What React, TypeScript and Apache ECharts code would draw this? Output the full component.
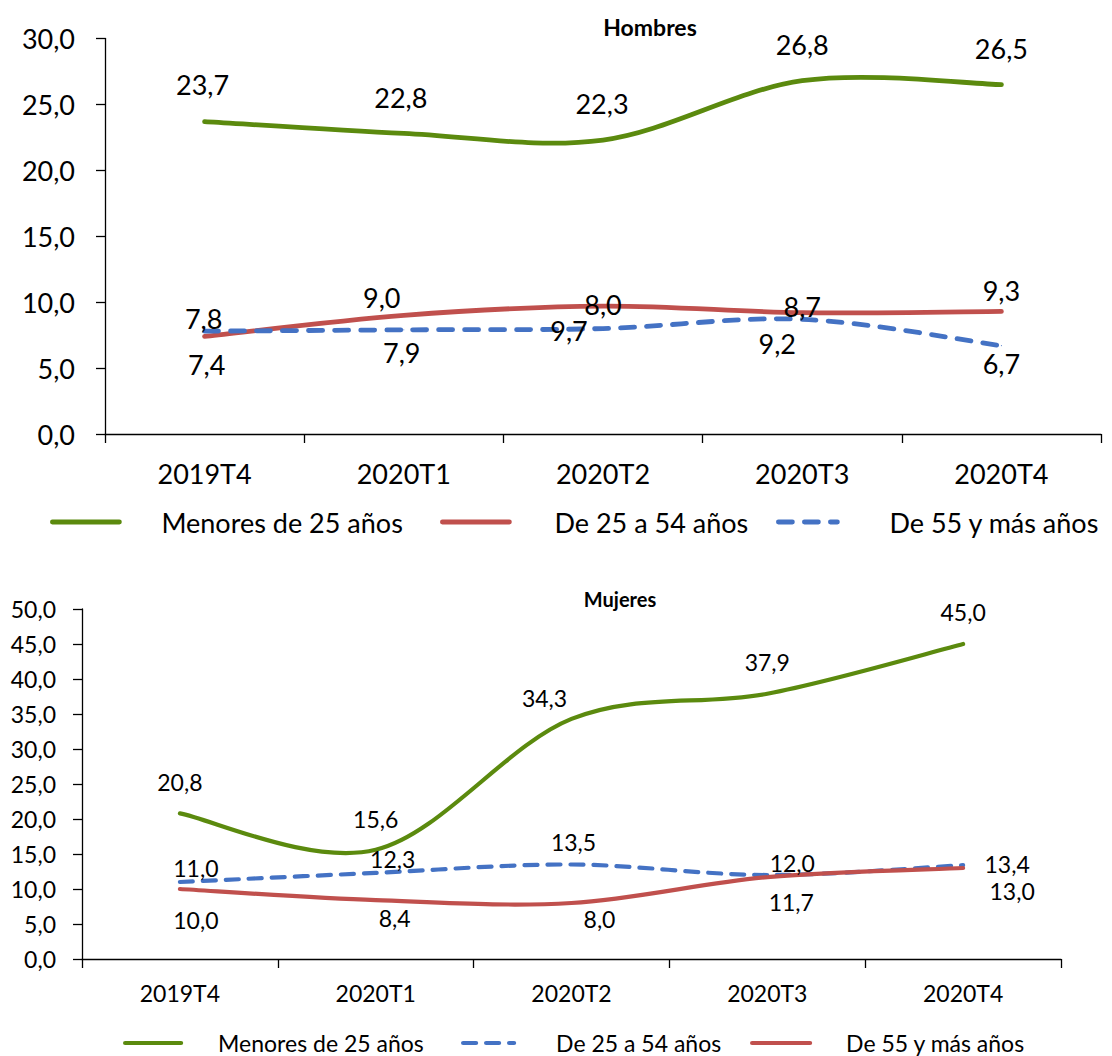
import React, { useEffect, useRef } from 'react';
import * as echarts from 'echarts';

const categories = ['2019T4', '2020T1', '2020T2', '2020T3', '2020T4'];
const seriesNames = ['Menores de 25 años', 'De 25 a 54 años', 'De 55 y más años'];

const hombresMenores25 = [23.7, 22.8, 22.3, 26.8, 26.5];
const hombres25a54 = [7.4, 9.0, 9.7, 9.2, 9.3];
const hombres55mas = [7.8, 7.9, 8.0, 8.7, 6.7];

const mujeresMenores25 = [20.8, 15.6, 34.3, 37.9, 45.0];
const mujeres25a54 = [11.0, 12.3, 13.5, 12.0, 13.4];
const mujeres55mas = [10.0, 8.4, 8.0, 11.7, 13.0];

const hombresAxisMax = 30;
const mujeresAxisMax = 50;
const axisInterval = 5;

const FONT = 'Lato, "Open Sans", sans-serif';
const GREEN = '#5B8A0E';
const RED = '#C0504D';
const BLUE = '#4472C4';

const fmt = (v: number) => Number(v).toFixed(1).replace('.', ',');

// Smoothed curve (Catmull-Rom style, as spreadsheet "smoothed line"), drawn through the axis scales.
function makeCurve(
  id: string,
  values: number[],
  idx: number,
  color: string,
  width: number,
  dash: number[] | null
) {
  return {
    id: id + '_curve',
    type: 'custom',
    coordinateSystem: 'cartesian2d',
    xAxisIndex: idx,
    yAxisIndex: idx,
    data: values.map((v, i) => [i, v]),
    encode: { x: 0, y: 1 },
    silent: true,
    z: 3,
    renderItem: (params: any, api: any) => {
      if (params.dataIndex !== 0) return null;
      const pts = values.map((v, i) => api.coord([i, v]));
      let d = `M ${pts[0][0]} ${pts[0][1]}`;
      for (let i = 0; i < pts.length - 1; i++) {
        const p0 = pts[i - 1] || pts[i];
        const p1 = pts[i];
        const p2 = pts[i + 1];
        const p3 = pts[i + 2] || pts[i + 1];
        const c1x = p1[0] + (p2[0] - p0[0]) / 6;
        const c1y = p1[1] + (p2[1] - p0[1]) / 6;
        const c2x = p2[0] - (p3[0] - p1[0]) / 6;
        const c2y = p2[1] - (p3[1] - p1[1]) / 6;
        d += ` C ${c1x} ${c1y} ${c2x} ${c2y} ${p2[0]} ${p2[1]}`;
      }
      return {
        type: 'path',
        shape: { pathData: d },
        style: {
          fill: 'none',
          stroke: color,
          lineWidth: width,
          lineDash: dash || undefined,
          lineCap: 'round',
          lineJoin: 'round',
        },
      };
    },
  };
}

// Invisible line series carrying the data labels and the legend entry.
function makeLabels(
  id: string,
  data: number[],
  idx: number,
  color: string,
  offsets: number[][],
  fontSize: number,
  lineHeight: number
) {
  return {
    id,
    name: id,
    type: 'line',
    xAxisIndex: idx,
    yAxisIndex: idx,
    data: data.map((v, i) => ({ value: v, label: { offset: offsets[i] } })),
    symbol: 'circle',
    symbolSize: 1,
    showSymbol: true,
    lineStyle: { color, width: 0, opacity: 0 },
    itemStyle: { color },
    label: {
      show: true,
      position: 'inside',
      formatter: (p: any) => fmt(p.value),
      fontSize,
      lineHeight,
      fontFamily: FONT,
      color: '#000',
    },
    emphasis: { disabled: true },
    z: 4,
  };
}

function makeLegend(
  id: string,
  label: string,
  left: number,
  top: number,
  iconW: number,
  gap: number,
  fontSize: number,
  lh: number,
  color: string,
  width: number,
  dash: number[] | null
) {
  return {
    data: [id],
    left,
    top,
    orient: 'horizontal',
    padding: 0,
    itemWidth: iconW,
    itemHeight: 2,
    selectedMode: false,
    formatter: () => label,
    lineStyle: { color, width, type: dash ? dash : 'solid', cap: 'round', opacity: 1 },
    itemStyle: { color, opacity: 0 },
    textStyle: { fontSize, fontFamily: FONT, color: '#000', padding: [0, 0, 0, gap - 5], lineHeight: lh },
  };
}

function xAxis(gridIndex: number, fontSize: number, margin: number) {
  return {
    type: 'category',
    gridIndex,
    data: categories,
    boundaryGap: true,
    axisLine: { show: true, lineStyle: { color: '#000', width: 1.3 } },
    axisTick: { show: true, length: 9, alignWithLabel: false, interval: 0, lineStyle: { color: '#000', width: 1.3 } },
    axisLabel: { fontSize, fontFamily: FONT, color: '#000', margin, interval: 0 },
    splitLine: { show: false },
  };
}

function yAxis(gridIndex: number, max: number, fontSize: number, margin: number) {
  return {
    type: 'value',
    gridIndex,
    min: 0,
    max,
    interval: axisInterval,
    axisLine: { show: true, lineStyle: { color: '#000', width: 1.3 } },
    axisTick: { show: true, length: 9, lineStyle: { color: '#000', width: 1.3 } },
    axisLabel: { fontSize, fontFamily: FONT, color: '#000', margin, formatter: (v: number) => fmt(v) },
    splitLine: { show: false },
  };
}

export default function App() {
  const ref = useRef<HTMLDivElement>(null);

  useEffect(() => {
    if (!ref.current) return;
    const chart = echarts.init(ref.current, null, { renderer: 'svg' });

    const TOP_FS = 27;
    const BOT_FS = 23;
    const TOP_W = 4.8;
    const BOT_W = 4.2;
    const TOP_DASH = [14, 12];
    const BOT_DASH = [13, 10];

    const option = {
      animation: false,
      backgroundColor: '#fff',
      textStyle: { fontFamily: FONT },
      grid: [
        { left: 105, top: 38.5, width: 996, height: 395.5 },
        { left: 82, top: 609, width: 979, height: 350 },
      ],
      xAxis: [xAxis(0, TOP_FS, 26), xAxis(1, BOT_FS, 22)],
      yAxis: [yAxis(0, hombresAxisMax, TOP_FS, 30), yAxis(1, mujeresAxisMax, BOT_FS, 26)],
      legend: [
        makeLegend('h0', seriesNames[0], 50, 507, 67, 42, TOP_FS, 30, GREEN, TOP_W, null),
        makeLegend('h1', seriesNames[1], 440, 507, 67, 45, TOP_FS, 30, RED, TOP_W, null),
        makeLegend('h2', seriesNames[2], 776, 507, 59, 52, TOP_FS, 30, BLUE, TOP_W, TOP_DASH),
        makeLegend('m0', seriesNames[0], 123, 1030, 56, 37, BOT_FS, 26, GREEN, BOT_W, null),
        makeLegend('m1', seriesNames[1], 461, 1030, 51, 42, BOT_FS, 26, BLUE, BOT_W, BOT_DASH),
        makeLegend('m2', seriesNames[2], 750, 1030, 58, 36, BOT_FS, 26, RED, BOT_W, null),
      ],
      graphic: [
        { type: 'text', x: 650, y: 27, style: { text: 'Hombres', fontSize: 23, fontWeight: 'bold', fontFamily: FONT, fill: '#000', align: 'center', verticalAlign: 'middle' } },
        { type: 'text', x: 620, y: 599, style: { text: 'Mujeres', fontSize: 20, fontWeight: 'bold', fontFamily: FONT, fill: '#000', align: 'center', verticalAlign: 'middle' } },
      ],
      series: [
        makeCurve('h0', hombresMenores25, 0, GREEN, TOP_W, null),
        makeCurve('h1', hombres25a54, 0, RED, TOP_W, null),
        makeCurve('h2', hombres55mas, 0, BLUE, TOP_W, TOP_DASH),
        makeCurve('m0', mujeresMenores25, 1, GREEN, BOT_W, null),
        makeCurve('m1', mujeres25a54, 1, BLUE, BOT_W, BOT_DASH),
        makeCurve('m2', mujeres55mas, 1, RED, BOT_W, null),
        makeLabels('h0', hombresMenores25, 0, GREEN,
          [[-2, -37], [-3, -36], [-1, -37], [0, -36], [0, -36]], TOP_FS, 24),
        makeLabels('h1', hombres25a54, 0, RED,
          [[2, 28], [-22, -18], [-34, 24], [-25, 31], [0, -21]], TOP_FS, 24),
        makeLabels('h2', hombres55mas, 0, BLUE,
          [[-1, -13], [-2, 23], [0, -24], [0, -13], [0, 18]], TOP_FS, 24),
        makeLabels('m0', mujeresMenores25, 1, GREEN,
          [[0, -31], [0, -31], [-27, -21], [0, -32], [0, -32]], BOT_FS, 20),
        makeLabels('m1', mujeres25a54, 1, BLUE,
          [[16, -14], [17, -14], [2, -23], [25, -12], [44, -1]], BOT_FS, 20),
        makeLabels('m2', mujeres55mas, 1, RED,
          [[16, 31], [19, 18], [28, 16], [24, 25], [49, 23]], BOT_FS, 20),
      ],
    };

    chart.setOption(option as any);
    return () => chart.dispose();
  }, []);

  return (
    <div
      ref={ref}
      style={{ position: 'fixed', left: 0, top: 0, width: 1112, height: 1056, background: '#fff' }}
    />
  );
}
